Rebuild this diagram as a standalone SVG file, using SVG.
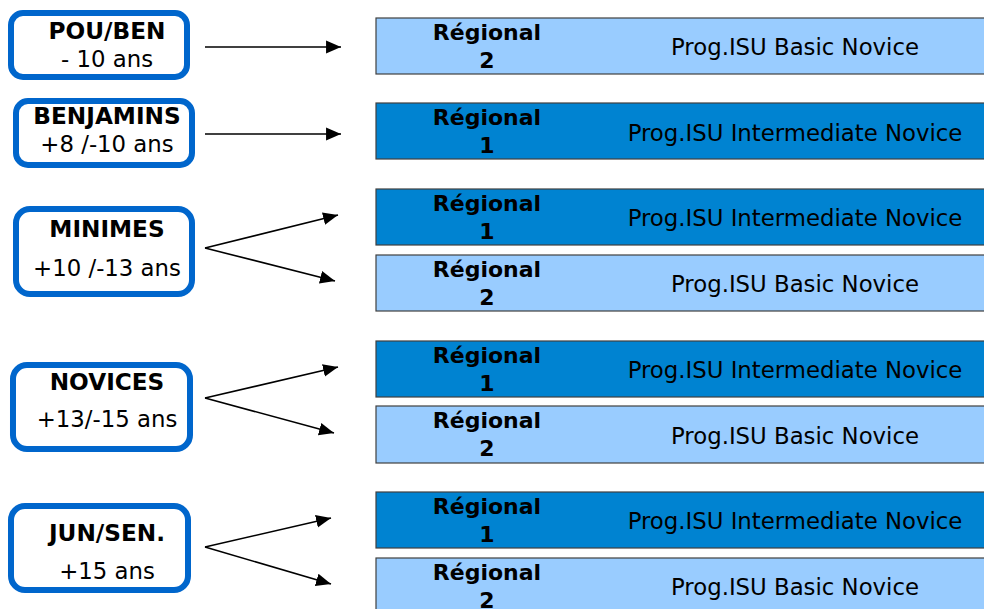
<svg xmlns="http://www.w3.org/2000/svg" width="984" height="609" viewBox="0 0 984 609">
<style>
.box{fill:#fff;stroke:#0066CC;stroke-width:6}
.bar{stroke:#404040;stroke-width:1.2}
.light{fill:#99CCFF}
.dark{fill:#0083D1}
text{font-family:"DejaVu Sans",Verdana,sans-serif;font-size:22.8px;fill:#000;text-anchor:middle}
.b{font-weight:bold;font-size:22px}
.bb{font-weight:bold;font-size:23.2px}
.con line{stroke:#000;stroke-width:1.6;marker-end:url(#ah)}
</style>
<defs>
<marker id="ah" markerUnits="userSpaceOnUse" markerWidth="16" markerHeight="14" refX="14" refY="6" orient="auto" viewBox="0 0 15 12">
<path d="M0,0 L14,6 L0,12 z" fill="#000"/>
</marker>
</defs>
<rect width="984" height="609" fill="#fff"/>

<g id="box-pouben"><rect class="box" x="11" y="13" width="176" height="64" rx="12"/><text class="bb" x="107" y="39">POU/BEN</text><text x="107" y="67">- 10 ans</text></g>
<g id="box-benjamins"><rect class="box" x="16" y="101" width="176" height="64" rx="12"/><text class="bb" x="107" y="124">BENJAMINS</text><text x="107" y="152">+8 /-10 ans</text></g>
<g id="box-minimes"><rect class="box" x="16" y="209" width="176" height="85" rx="14"/><text class="bb" x="107" y="237">MINIMES</text><text x="107" y="276">+10 /-13 ans</text></g>
<g id="box-novices"><rect class="box" x="13" y="365" width="177" height="84" rx="14"/><text class="bb" x="107" y="390">NOVICES</text><text x="107" y="427">+13/-15 ans</text></g>
<g id="box-junsen"><rect class="box" x="11" y="506" width="177" height="84" rx="14"/><text class="bb" x="107" y="541">JUN/SEN.</text><text x="107" y="579">+15 ans</text></g>

<g id="bar1"><rect class="bar light" x="376" y="18" width="620" height="56"/><text class="b" x="487" y="40">Régional</text><text class="b" x="487" y="68">2</text><text x="795" y="55">Prog.ISU Basic Novice</text></g>
<g id="bar2"><rect class="bar dark" x="376" y="103" width="620" height="56"/><text class="b" x="487" y="125">Régional</text><text class="b" x="487" y="153">1</text><text x="795" y="141">Prog.ISU Intermediate Novice</text></g>
<g id="bar3"><rect class="bar dark" x="376" y="189" width="620" height="56"/><text class="b" x="487" y="211">Régional</text><text class="b" x="487" y="239">1</text><text x="795" y="226">Prog.ISU Intermediate Novice</text></g>
<g id="bar4"><rect class="bar light" x="376" y="255" width="620" height="56"/><text class="b" x="487" y="277">Régional</text><text class="b" x="487" y="305">2</text><text x="795" y="292">Prog.ISU Basic Novice</text></g>
<g id="bar5"><rect class="bar dark" x="376" y="341" width="620" height="56"/><text class="b" x="487" y="363">Régional</text><text class="b" x="487" y="391">1</text><text x="795" y="378">Prog.ISU Intermediate Novice</text></g>
<g id="bar6"><rect class="bar light" x="376" y="406" width="620" height="57"/><text class="b" x="487" y="428">Régional</text><text class="b" x="487" y="456">2</text><text x="795" y="444">Prog.ISU Basic Novice</text></g>
<g id="bar7"><rect class="bar dark" x="376" y="492" width="620" height="56"/><text class="b" x="487" y="514">Régional</text><text class="b" x="487" y="542">1</text><text x="795" y="529">Prog.ISU Intermediate Novice</text></g>
<g id="bar8"><rect class="bar light" x="376" y="558" width="620" height="60"/><text class="b" x="487" y="580">Régional</text><text class="b" x="487" y="608">2</text><text x="795" y="595">Prog.ISU Basic Novice</text></g>

<g class="con" id="connectors">
<line x1="205" y1="47" x2="341" y2="47"/>
<line x1="205" y1="134" x2="341" y2="134"/>
<line x1="205" y1="248" x2="338" y2="215"/>
<line x1="205" y1="248" x2="335" y2="281"/>
<line x1="205" y1="398" x2="338" y2="367"/>
<line x1="205" y1="398" x2="334" y2="433"/>
<line x1="205" y1="547" x2="331" y2="518"/>
<line x1="205" y1="547" x2="331" y2="584"/>
</g>
</svg>
